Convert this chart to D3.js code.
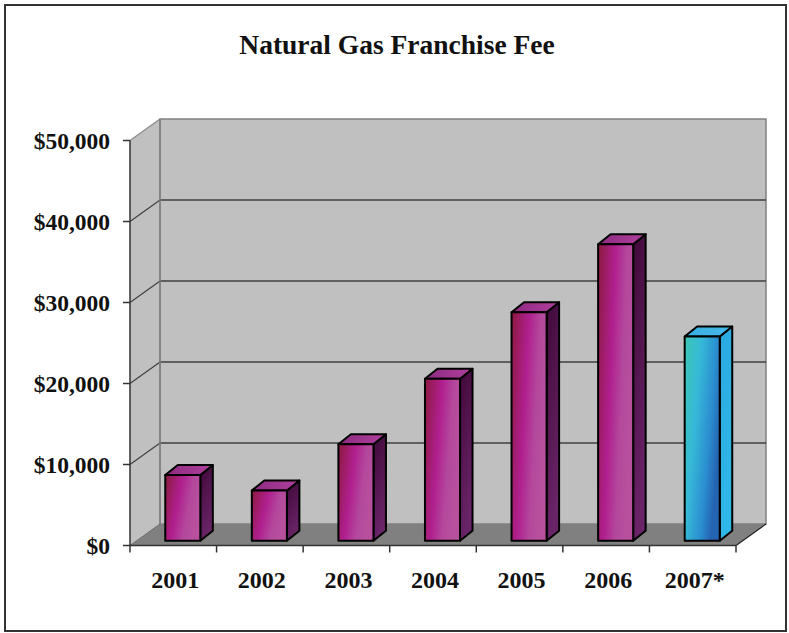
<!DOCTYPE html>
<html>
<head>
<meta charset="utf-8">
<script src="https://cdn.jsdelivr.net/npm/d3@7/dist/d3.min.js"></script>
<style>
  html, body { margin: 0; padding: 0; background: #fff; }
  svg { display: block; }
</style>
</head>
<body>
<svg id="chart" width="789" height="633"></svg>
<script>
// Natural gas franchise fee by year (2007 is a partial-year estimate)
const categories = ["2001", "2002", "2003", "2004", "2005", "2006", "2007*"];
const fees = [8100, 6200, 11900, 20000, 28200, 36600, 25200];
const yTicks = [0, 10000, 20000, 30000, 40000, 50000];
const title = "Natural Gas Franchise Fee";

(function () {
const svg = d3.select("#chart");
const FONT = "'Liberation Serif', 'DejaVu Serif', serif";

// Plot geometry (front plane of the 3-D box)
const pL = 130, pR = 736, pT = 140.5, pB = 545.5;
const depth = { dx: 30, dy: -21.5 };       // wall depth
const barDepth = { dx: 12.5, dy: -10 };    // bar depth
const barFront = { dx: 9.5, dy: -4.8 };    // bar front face position inside the box

const x = d3.scaleBand().domain(categories).range([pL, pR]).paddingInner(0).paddingOuter(0);
const y = d3.scaleLinear().domain([0, 50000]).range([pB, pT]);
const yBack = v => y(v) + depth.dy;
const step = x.step();
const barW = step * 0.405;

const defs = svg.append("defs");
function grad(id, stops, x2, y2) {
  const g = defs.append("linearGradient").attr("id", id)
    .attr("x1", 0).attr("y1", 0).attr("x2", x2).attr("y2", y2);
  stops.forEach(([o, c]) => g.append("stop").attr("offset", o).attr("stop-color", c));
}
grad("magFront", [[0, "#8c1a3e"], [0.45, "#b01f8f"], [0.75, "#b4489c"], [1, "#b8509e"]], 1, 0.35);
grad("magTop", [[0, "#8e2a80"], [1, "#b0409e"]], 1, 0);
grad("magSide", [[0, "#3f0838"], [1, "#6a2468"]], 0.3, 1);
grad("cyanFront", [[0, "#3cc8b4"], [0.4, "#36b8d8"], [0.75, "#2b8ed0"], [1, "#2462b2"]], 1, 0.5);
grad("cyanTop", [[0, "#38b0e0"], [1, "#48b8ea"]], 1, 0);
grad("cyanSide", [[0, "#2aa8e0"], [1, "#30b8e8"]], 0.3, 1);

// Outer frame
svg.append("rect").attr("x", 5).attr("y", 5).attr("width", 781).attr("height", 626)
  .attr("fill", "#fff").attr("stroke", "#333").attr("stroke-width", 2);

// Title
svg.append("text").attr("x", 397).attr("y", 54).attr("text-anchor", "middle")
  .attr("font-family", FONT).attr("font-weight", "bold").attr("font-size", 27.5)
  .attr("fill", "#111").text(title);

const pts = a => a.map(p => p.join(",")).join(" ");

// Side wall
svg.append("polygon")
  .attr("points", pts([[pL, pT], [pL + depth.dx, pT + depth.dy], [pL + depth.dx, pB + depth.dy], [pL, pB]]))
  .attr("fill", "#c0c0c0").attr("stroke", "none");
// Back wall
svg.append("rect")
  .attr("x", pL + depth.dx).attr("y", pT + depth.dy)
  .attr("width", pR - pL).attr("height", pB - pT)
  .attr("fill", "#c0c0c0").attr("stroke", "#808080").attr("stroke-width", 1.5);
// Floor
svg.append("polygon")
  .attr("points", pts([[pL, pB], [pR, pB], [pR + depth.dx, pB + depth.dy], [pL + depth.dx, pB + depth.dy]]))
  .attr("fill", "#808080").attr("stroke", "none");
svg.append("line")
  .attr("x1", pR).attr("y1", pB).attr("x2", pR + depth.dx).attr("y2", pB + depth.dy)
  .attr("stroke", "#222").attr("stroke-width", 1.2);

// Gridlines on back and side walls
const grid = svg.append("g");
yTicks.filter(v => v > 0).forEach(v => {
  const col = v === 50000 ? "#8a8a8a" : "#404040";
  grid.append("line").attr("x1", pL).attr("y1", y(v)).attr("x2", pL + depth.dx).attr("y2", yBack(v))
    .attr("stroke", col).attr("stroke-width", 1.2);
  if (v < 50000) {
    grid.append("line").attr("x1", pL + depth.dx).attr("y1", yBack(v)).attr("x2", pR + depth.dx).attr("y2", yBack(v))
      .attr("stroke", col).attr("stroke-width", 1.5);
  }
});
// back-left vertical edge
grid.append("line").attr("x1", pL + depth.dx).attr("y1", pT + depth.dy).attr("x2", pL + depth.dx).attr("y2", pB + depth.dy)
  .attr("stroke", "#808080").attr("stroke-width", 1.5);
grid.append("line").attr("x1", pL).attr("y1", pB).attr("x2", pL + depth.dx).attr("y2", pB + depth.dy)
  .attr("stroke", "#6a6a6a").attr("stroke-width", 1);

// Bars
const bars = svg.append("g");
categories.forEach((c, i) => {
  const v = fees[i];
  const isEst = c.endsWith("*");
  const x0 = x(c) + (step - barW) / 2 + barFront.dx;
  const x1 = x0 + barW;
  const yb = y(0) + barFront.dy;
  const yt = y(v) + barFront.dy;
  const d = barDepth;
  const g = bars.append("g").attr("stroke", "#000").attr("stroke-width", 2).attr("stroke-linejoin", "round");
  // side face
  g.append("polygon").attr("points", pts([[x1, yt], [x1 + d.dx, yt + d.dy], [x1 + d.dx, yb + d.dy], [x1, yb]]))
    .attr("fill", `url(#${isEst ? "cyanSide" : "magSide"})`);
  // top face
  g.append("polygon").attr("points", pts([[x0, yt], [x0 + d.dx, yt + d.dy], [x1 + d.dx, yt + d.dy], [x1, yt]]))
    .attr("fill", `url(#${isEst ? "cyanTop" : "magTop"})`);
  // front face
  g.append("rect").attr("x", x0).attr("y", yt).attr("width", barW).attr("height", yb - yt)
    .attr("fill", `url(#${isEst ? "cyanFront" : "magFront"})`);
});

// Y axis
const yAxis = svg.append("g");
yAxis.append("line").attr("x1", pL).attr("y1", pT).attr("x2", pL).attr("y2", pB)
  .attr("stroke", "#333").attr("stroke-width", 1.5);
const fmt = d3.format("$,");
yTicks.forEach(v => {
  yAxis.append("line").attr("x1", pL - 7).attr("y1", y(v)).attr("x2", pL).attr("y2", y(v))
    .attr("stroke", "#333").attr("stroke-width", 1.5);
  yAxis.append("text").attr("x", 110).attr("y", y(v)).attr("dy", "0.35em")
    .attr("text-anchor", "end").attr("font-family", FONT).attr("font-weight", "bold")
    .attr("font-size", 23.5).attr("fill", "#111").text(fmt(v));
});

// X axis
const xAxis = svg.append("g");
xAxis.append("line").attr("x1", pL).attr("y1", pB).attr("x2", pR).attr("y2", pB)
  .attr("stroke", "#333").attr("stroke-width", 1.5);
d3.range(categories.length + 1).forEach(i => {
  const xx = pL + i * step;
  xAxis.append("line").attr("x1", xx).attr("y1", pB).attr("x2", xx).attr("y2", pB + 7)
    .attr("stroke", "#333").attr("stroke-width", 1.5);
});
categories.forEach(c => {
  xAxis.append("text").attr("x", x(c) + step / 2 + 2).attr("y", 588)
    .attr("text-anchor", "middle").attr("font-family", FONT).attr("font-weight", "bold")
    .attr("font-size", 24).attr("fill", "#111").text(c);
});
})();
</script>
</body>
</html>
